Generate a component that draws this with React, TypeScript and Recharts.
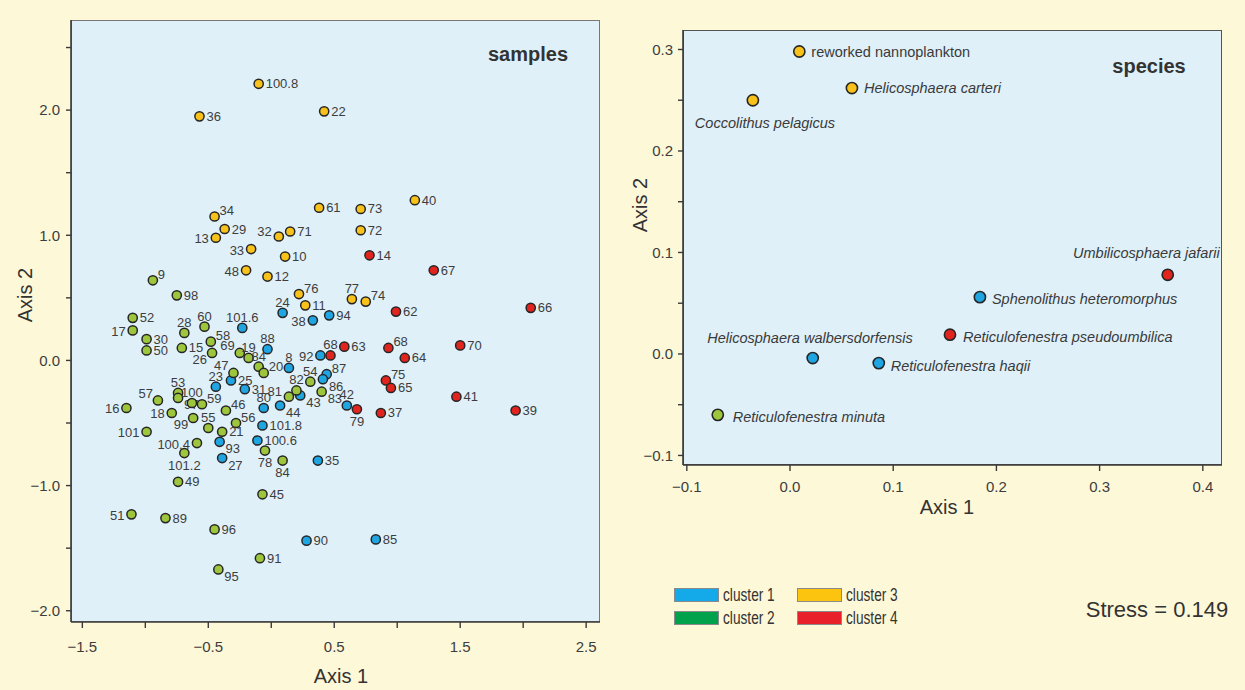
import { Scatter, ScatterChart, XAxis, YAxis } from "recharts";

// ---- samples: one set of arrays per cluster ----
const cluster1Labels = ["101.6", "24", "38", "94", "88", "8", "92", "87", "86", "43", "44", "80", "42", "101.8", "100.6", "93", "27", "23", "25", "31", "35", "90", "85"];
const cluster1Axis1 = [-0.23, 0.09, 0.33, 0.46, -0.03, 0.14, 0.39, 0.44, 0.41, 0.23, 0.07, -0.06, 0.6, -0.07, -0.11, -0.41, -0.39, -0.44, -0.32, -0.21, 0.37, 0.28, 0.83];
const cluster1Axis2 = [0.26, 0.38, 0.32, 0.36, 0.09, -0.06, 0.04, -0.11, -0.15, -0.28, -0.36, -0.38, -0.36, -0.52, -0.64, -0.65, -0.78, -0.21, -0.16, -0.23, -0.8, -1.44, -1.43];

const cluster2Labels = ["9", "98", "52", "17", "30", "50", "28", "60", "15", "58", "26", "69", "19", "84", "20", "47", "57", "53", "97", "100", "59", "18", "16", "99", "55", "46", "56", "21", "101", "100.4", "101.2", "49", "78", "84", "54", "82", "81", "83", "45", "51", "89", "96", "91", "95"];
const cluster2Axis1 = [-0.94, -0.75, -1.1, -1.1, -0.99, -0.99, -0.69, -0.53, -0.71, -0.48, -0.47, -0.25, -0.18, -0.1, -0.06, -0.3, -0.9, -0.74, -0.74, -0.63, -0.55, -0.79, -1.15, -0.62, -0.5, -0.36, -0.28, -0.39, -0.99, -0.59, -0.69, -0.74, -0.05, 0.09, 0.31, 0.2, 0.14, 0.4, -0.07, -1.11, -0.84, -0.45, -0.09, -0.42];
const cluster2Axis2 = [0.64, 0.52, 0.34, 0.24, 0.17, 0.08, 0.22, 0.27, 0.1, 0.15, 0.06, 0.06, 0.02, -0.05, -0.1, -0.1, -0.32, -0.26, -0.3, -0.34, -0.35, -0.42, -0.38, -0.46, -0.54, -0.4, -0.5, -0.57, -0.57, -0.66, -0.74, -0.97, -0.72, -0.8, -0.17, -0.24, -0.29, -0.25, -1.07, -1.23, -1.26, -1.35, -1.58, -1.67];

const cluster3Labels = ["100.8", "36", "22", "61", "34", "29", "13", "32", "71", "33", "10", "48", "12", "73", "72", "40", "77", "74", "76", "11"];
const cluster3Axis1 = [-0.1, -0.57, 0.42, 0.38, -0.45, -0.37, -0.44, 0.06, 0.15, -0.16, 0.11, -0.2, -0.03, 0.71, 0.71, 1.14, 0.64, 0.75, 0.22, 0.27];
const cluster3Axis2 = [2.21, 1.95, 1.99, 1.22, 1.15, 1.05, 0.98, 0.99, 1.03, 0.89, 0.83, 0.72, 0.67, 1.21, 1.04, 1.28, 0.49, 0.47, 0.53, 0.44];

const cluster4Labels = ["14", "67", "62", "66", "68", "63", "68", "64", "70", "75", "65", "41", "39", "37", "79"];
const cluster4Axis1 = [0.78, 1.29, 0.99, 2.06, 0.47, 0.58, 0.93, 1.06, 1.5, 0.91, 0.95, 1.47, 1.94, 0.87, 0.68];
const cluster4Axis2 = [0.84, 0.72, 0.39, 0.42, 0.04, 0.11, 0.1, 0.02, 0.12, -0.16, -0.22, -0.29, -0.4, -0.42, -0.39];

// ---- species ----
const speciesNames = [
  "reworked nannoplankton",
  "Helicosphaera carteri",
  "Coccolithus pelagicus",
  "Umbilicosphaera jafarii",
  "Sphenolithus heteromorphus",
  "Reticulofenestra pseudoumbilica",
  "Helicosphaera walbersdorfensis",
  "Reticulofenestra haqii",
  "Reticulofenestra minuta",
];
const speciesAxis1 = [0.009, 0.06, -0.036, 0.366, 0.184, 0.155, 0.022, 0.086, -0.07];
const speciesAxis2 = [0.298, 0.262, 0.25, 0.078, 0.056, 0.019, -0.004, -0.009, -0.06];
const speciesCluster = [3, 3, 3, 4, 1, 4, 1, 1, 2];

const samplesXTicks = [-1.5, -1, -0.5, 0, 0.5, 1, 1.5, 2, 2.5];
const samplesYTicks = [-2, -1.5, -1, -0.5, 0, 0.5, 1, 1.5, 2, 2.5];
const speciesXTicks = [-0.1, 0, 0.1, 0.2, 0.3, 0.4];
const speciesYTicks = [-0.1, -0.05, 0, 0.05, 0.1, 0.15, 0.2, 0.25, 0.3];

const legendLabels = ["cluster 1", "cluster 2", "cluster 3", "cluster 4"];

// ---- styling ----
const FONT = "'Liberation Sans', Arial, Helvetica, sans-serif";
const PAGE_BG = "#fdf8d8";
const PLOT_BG = "#dff0f9";
const POINT_COLORS: Record<number, string> = { 1: "#1fa6e2", 2: "#9dc63c", 3: "#f8c21a", 4: "#e2241f" };
const LEGEND_COLORS = ["#14a9e9", "#02a14c", "#fdc40f", "#e8202a"];

// where each sample number sits relative to its dot
const SIDES: Record<string, [number, number, string]> = {
  r: [7, 0, "start"],
  l: [-7, 1, "end"],
  t: [0, -10.5, "middle"],
  b: [0, 12, "middle"],
  ur: [5, -6, "start"],
  ul: [-5, -7, "end"],
  ul2: [-7, -5, "end"],
  br: [6, 7, "start"],
  bl: [-5, 7, "end"],
};
const LABEL_SIDE: Record<string, string> = {
  "34": "ur", "13": "l", "32": "ul2", "33": "l", "48": "l", "77": "t", "74": "ur", "76": "ur",
  "68": "t", "68#2": "ur", "75": "ur", "79": "b",
  "101.6": "t", "24": "t", "38": "l", "88": "t", "8": "t", "92": "l", "87": "ur", "86": "br", "43": "br",
  "44": "br", "80": "t", "42": "t", "93": "br", "27": "br", "23": "t",
  "9": "ur", "17": "l", "28": "t", "60": "t", "58": "ur", "26": "bl", "69": "ul", "19": "t", "84": "t",
  "20": "ur", "47": "ul", "57": "ul", "53": "t", "97": "br", "100": "t", "59": "ur", "18": "l", "16": "l",
  "99": "bl", "55": "t", "46": "ur", "56": "ur", "101": "l", "100.4": "l", "101.2": "b",
  "78": "b", "84#2": "b", "54": "t", "82": "t", "81": "ul2", "83": "br", "51": "l", "95": "br",
};

const SPECIES_LABEL: Record<string, [number, number, string, boolean]> = {
  "reworked nannoplankton": [12, 0, "start", false],
  "Helicosphaera carteri": [12, 0, "start", true],
  "Coccolithus pelagicus": [-58, 23, "start", true],
  "Umbilicosphaera jafarii": [52, -22, "end", true],
  "Sphenolithus heteromorphus": [12, 2, "start", true],
  "Reticulofenestra pseudoumbilica": [13, 2, "start", true],
  "Helicosphaera walbersdorfensis": [100, -20, "end", true],
  "Reticulofenestra haqii": [12, 3, "start", true],
  "Reticulofenestra minuta": [15, 2, "start", true],
};

type SamplePoint = { x: number; y: number; label: string; key: string };

function buildSamples(labels: string[], xs: number[], ys: number[]): SamplePoint[] {
  const seen: Record<string, number> = {};
  return labels.map((label, i) => {
    seen[label] = (seen[label] || 0) + 1;
    const key = seen[label] > 1 ? `${label}#${seen[label]}` : label;
    return { x: xs[i], y: ys[i], label, key };
  });
}

const sampleSets = [
  { cluster: 1, data: buildSamples(cluster1Labels, cluster1Axis1, cluster1Axis2) },
  { cluster: 2, data: buildSamples(cluster2Labels, cluster2Axis1, cluster2Axis2) },
  { cluster: 3, data: buildSamples(cluster3Labels, cluster3Axis1, cluster3Axis2) },
  { cluster: 4, data: buildSamples(cluster4Labels, cluster4Axis1, cluster4Axis2) },
];

const speciesSets = [1, 2, 3, 4].map((cluster) => ({
  cluster,
  data: speciesNames
    .map((name, i) => ({ x: speciesAxis1[i], y: speciesAxis2[i], name, cluster: speciesCluster[i] }))
    .filter((d) => d.cluster === cluster),
}));

const minus = (s: string) => s.replace("-", "\u2212");

function sampleShape(fill: string) {
  return (props: any) => {
    const { cx, cy, payload } = props;
    const [dx, dy, anchor] = SIDES[LABEL_SIDE[payload.key] ?? "r"];
    return (
      <g>
        <circle cx={cx} cy={cy} r={4.6} fill={fill} stroke="#262626" strokeWidth={1.5} />
        <text
          x={cx + dx}
          y={cy + dy}
          textAnchor={anchor}
          dominantBaseline="central"
          fontSize={13}
          fontFamily={FONT}
          fill="#3d3d3d"
        >
          {payload.label}
        </text>
      </g>
    );
  };
}

function speciesShape(fill: string) {
  return (props: any) => {
    const { cx, cy, payload } = props;
    const [dx, dy, anchor, italic] = SPECIES_LABEL[payload.name];
    return (
      <g>
        <circle cx={cx} cy={cy} r={5.6} fill={fill} stroke="#262626" strokeWidth={1.6} />
        <text
          x={cx + dx}
          y={cy + dy}
          textAnchor={anchor}
          dominantBaseline="central"
          fontSize={14.5}
          fontStyle={italic ? "italic" : "normal"}
          fontFamily={FONT}
          fill="#3a3a3a"
        >
          {payload.name}
        </text>
      </g>
    );
  };
}

const tickStyle = { fill: "#3d3d3d", fontSize: 15, fontFamily: FONT };
const axisLine = { stroke: "#3a3a3a", strokeWidth: 1.6 };
const tickLine = { stroke: "#3a3a3a", strokeWidth: 1.4 };

function Text({ x, y, size, bold, rotate, children }: any) {
  return (
    <div
      style={{
        position: "absolute",
        left: x,
        top: y,
        transform: `translate(-50%, -50%)${rotate ? " rotate(-90deg)" : ""}`,
        fontFamily: FONT,
        fontSize: size,
        fontWeight: bold ? 700 : 400,
        color: "#333",
        lineHeight: 1,
        whiteSpace: "nowrap",
      }}
    >
      {children}
    </div>
  );
}

export default function App() {
  return (
    <div style={{ position: "absolute", left: 0, top: 0, width: 1245, height: 690, background: PAGE_BG, overflow: "hidden" }}>
      {/* plot backgrounds */}
      <div style={{ position: "absolute", left: 71, top: 20, width: 529, height: 602, background: PLOT_BG, border: "1px solid #777", boxSizing: "border-box" }} />
      <div style={{ position: "absolute", left: 683, top: 30, width: 539, height: 435, background: PLOT_BG, border: "1px solid #555", boxSizing: "border-box" }} />

      <div style={{ position: "absolute", left: 0, top: 0 }}>
        <ScatterChart width={610} height={690} margin={{ top: 20, right: 10, bottom: 8, left: 11 }}>
          <XAxis
            type="number"
            dataKey="x"
            domain={[-1.59, 2.61]}
            ticks={samplesXTicks}
            interval={0}
            allowDataOverflow
            height={60}
            tick={tickStyle}
            tickSize={6}
            tickMargin={13}
            axisLine={axisLine}
            tickLine={tickLine}
            tickFormatter={(v: number) => (Math.abs((v * 2) % 2) === 1 ? minus(v.toFixed(1)) : "")}
          />
          <YAxis
            type="number"
            dataKey="y"
            domain={[-2.09, 2.72]}
            ticks={samplesYTicks}
            interval={0}
            allowDataOverflow
            width={60}
            tick={tickStyle}
            tickSize={5}
            tickMargin={6}
            axisLine={axisLine}
            tickLine={tickLine}
            tickFormatter={(v: number) => (Number.isInteger(v) ? minus(v.toFixed(1)) : "")}
          />
          {sampleSets.map((s) => (
            <Scatter
              key={s.cluster}
              data={s.data}
              shape={sampleShape(POINT_COLORS[s.cluster])}
              isAnimationActive={false}
            />
          ))}
        </ScatterChart>
      </div>

      <div style={{ position: "absolute", left: 610, top: 0 }}>
        <ScatterChart width={635} height={520} margin={{ top: 30, right: 23, bottom: 15, left: 13 }}>
          <XAxis
            type="number"
            dataKey="x"
            domain={[-0.1037, 0.4186]}
            ticks={speciesXTicks}
            interval={0}
            allowDataOverflow
            height={40}
            tick={tickStyle}
            tickSize={6}
            tickMargin={10}
            axisLine={axisLine}
            tickLine={tickLine}
            tickFormatter={(v: number) => minus(v.toFixed(1))}
          />
          <YAxis
            type="number"
            dataKey="y"
            domain={[-0.1094, 0.3192]}
            ticks={speciesYTicks}
            interval={0}
            allowDataOverflow
            width={60}
            tick={tickStyle}
            tickSize={5}
            tickMargin={5}
            axisLine={axisLine}
            tickLine={tickLine}
            tickFormatter={(v: number) => (Math.abs(Math.round(v * 100)) % 10 === 0 ? minus(v.toFixed(1)) : "")}
          />
          {speciesSets.map((s) => (
            <Scatter
              key={s.cluster}
              data={s.data}
              shape={speciesShape(POINT_COLORS[s.cluster])}
              isAnimationActive={false}
            />
          ))}
        </ScatterChart>
      </div>

      <Text x={528} y={54} size={20} bold>samples</Text>
      <Text x={1149} y={66} size={20} bold>species</Text>
      <Text x={341} y={676} size={20}>Axis 1</Text>
      <Text x={25} y={295} size={20} rotate>Axis 2</Text>
      <Text x={947} y={507} size={20}>Axis 1</Text>
      <Text x={640} y={205} size={20} rotate>Axis 2</Text>
      <Text x={1157} y={610} size={22}>Stress = 0.149</Text>

      {/* legend */}
      {legendLabels.map((label, i) => {
        const col = Math.floor(i / 2);
        const row = i % 2;
        return (
          <div key={label} style={{ position: "absolute", left: 674 + col * 123, top: 586 + row * 23, display: "flex", alignItems: "center" }}>
            <div style={{ width: 45, height: 14, background: LEGEND_COLORS[i], border: "1px solid #8a8a8a", boxSizing: "border-box" }} />
            <span
              style={{
                display: "inline-block",
                marginLeft: 4,
                fontFamily: FONT,
                fontSize: 18,
                color: "#333",
                lineHeight: 1,
                transform: "scaleX(0.76)",
                transformOrigin: "left center",
              }}
            >
              {label}
            </span>
          </div>
        );
      })}
    </div>
  );
}
